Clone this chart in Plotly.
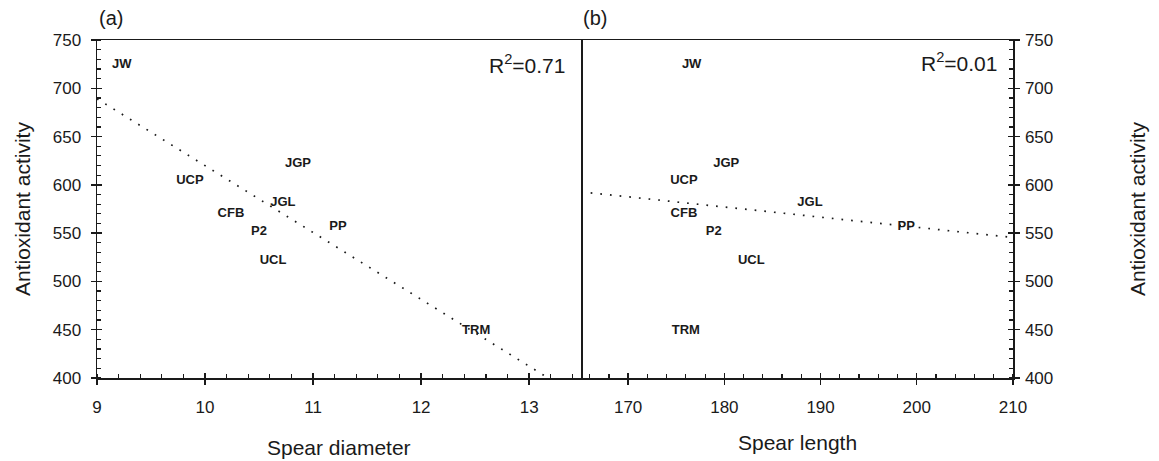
import numpy as np
import plotly.graph_objects as go

# ---------------- data ----------------
cultivars = ["JW", "UCP", "JGP", "JGL", "CFB", "P2", "PP", "UCL", "TRM"]
antioxidant_activity = [724, 604, 622, 581, 570, 551, 557, 521, 449]
spear_diameter = [9.23, 9.86, 10.86, 10.72, 10.24, 10.50, 11.23, 10.63, 12.51]
spear_length = [176.6, 175.8, 180.2, 188.9, 175.8, 178.9, 198.9, 182.8, 176.0]

r2_texts = ["R<sup>2</sup>=0.71", "R<sup>2</sup>=0.01"]
panel_tags = ["(a)", "(b)"]
x_titles = ["Spear diameter", "Spear length"]
y_title = "Antioxidant activity"

diam_range = [9, 13.48]
len_range = [165.1, 210]
y_range = [400, 750]

# ---------------- style ----------------
FONT = "Liberation Sans, Arial, Helvetica, sans-serif"
INK = "#1a1a1a"
W, H = 1159, 461
ML, MR, MT, MB = 97, 146, 40, 83
plot_w = W - ML - MR
split = (581 - ML) / plot_w

fig = go.Figure()

# trend lines (least squares fits from the data)
def fit_line(x, y, rng):
    k, b = np.polyfit(x, y, 1)
    xs = np.array(rng, dtype=float)
    return xs, k * xs + b

dash = "1.7px,8px"
xs, ys = fit_line(spear_diameter, antioxidant_activity, diam_range)
fig.add_trace(go.Scatter(x=xs, y=ys, mode="lines", xaxis="x", yaxis="y",
                         line=dict(color=INK, width=1.7, dash=dash),
                         hoverinfo="skip", showlegend=False))
xs, ys = fit_line(spear_length, antioxidant_activity, len_range)
fig.add_trace(go.Scatter(x=xs, y=ys, mode="lines", xaxis="x2", yaxis="y2",
                         line=dict(color=INK, width=1.7, dash=dash),
                         hoverinfo="skip", showlegend=False))

# cultivar labels as the points
label_font = dict(family=FONT, size=13, color=INK, weight="bold")
fig.add_trace(go.Scatter(x=spear_diameter, y=antioxidant_activity, mode="text",
                         text=cultivars, textposition="middle center",
                         textfont=label_font, xaxis="x", yaxis="y",
                         showlegend=False, cliponaxis=False))
fig.add_trace(go.Scatter(x=spear_length, y=antioxidant_activity, mode="text",
                         text=cultivars, textposition="middle center",
                         textfont=label_font, xaxis="x2", yaxis="y2",
                         showlegend=False, cliponaxis=False))

# invisible traces to register the overlay (inner tick) axes
fig.add_trace(go.Scatter(x=[diam_range[0]], y=[y_range[0]], xaxis="x3",
                         yaxis="y3", mode="markers", marker=dict(opacity=0),
                         showlegend=False, hoverinfo="skip"))
fig.add_trace(go.Scatter(x=[len_range[1]], y=[y_range[0]], xaxis="x4",
                         yaxis="y4", mode="markers", marker=dict(opacity=0),
                         showlegend=False, hoverinfo="skip"))

tickfont = dict(family=FONT, size=17, color=INK)

def main_axis(**kw):
    d = dict(showline=True, linecolor=INK, linewidth=1.5, mirror=True,
             showgrid=False, zeroline=False, ticks="outside", ticklen=5,
             tickwidth=1.3, tickcolor=INK, tickfont=tickfont, fixedrange=True)
    d.update(kw)
    return d

def inner_axis(**kw):
    d = dict(showline=False, showgrid=False, zeroline=False, ticks="inside",
             ticklen=5, tickwidth=1.3, tickcolor=INK, showticklabels=False,
             fixedrange=True)
    d.update(kw)
    return d

minor_style = dict(ticks="inside", ticklen=4, tickcolor=INK, tickwidth=1.2)

fig.update_layout(
    width=W, height=H,
    margin=dict(l=ML, r=MR, t=MT, b=MB),
    paper_bgcolor="white", plot_bgcolor="white",
    font=dict(family=FONT, color=INK),
    showlegend=False,
    xaxis=main_axis(domain=[0, split], range=diam_range, anchor="y",
                    tick0=9, dtick=1, ticklabelstandoff=8,
                    minor=dict(dtick=0.2, **minor_style)),
    yaxis=main_axis(domain=[0, 1], range=y_range, anchor="x",
                    tick0=400, dtick=50, ticklabelstandoff=6,
                    minor=dict(dtick=10, **minor_style)),
    xaxis2=main_axis(domain=[split, 1], range=len_range, anchor="y2",
                     tick0=170, dtick=10, ticklabelstandoff=8,
                     minor=dict(dtick=2, **minor_style)),
    yaxis2=main_axis(domain=[0, 1], range=y_range, anchor="x2", side="right",
                     mirror=False, tick0=400, dtick=50, ticklabelstandoff=2,
                     minor=dict(dtick=10, **minor_style)),
    xaxis3=inner_axis(domain=[0, split], range=diam_range, anchor="y3",
                      overlaying="x", tick0=9, dtick=1),
    yaxis3=inner_axis(domain=[0, 1], range=y_range, anchor="x3",
                      overlaying="y", tick0=400, dtick=50),
    xaxis4=inner_axis(domain=[split, 1], range=len_range, anchor="y4",
                      overlaying="x2", tick0=170, dtick=10),
    yaxis4=inner_axis(domain=[0, 1], range=y_range, anchor="x4",
                      overlaying="y2", side="right", tick0=400, dtick=50),
)

# text annotations
ann = []
ann.append(dict(text=panel_tags[0], xref="paper", yref="paper", x=0.0, y=1.0,
                xanchor="left", yanchor="bottom", yshift=9, showarrow=False,
                font=dict(family=FONT, size=20, color=INK)))
ann.append(dict(text=panel_tags[1], xref="paper", yref="paper", x=split, y=1.0,
                xanchor="left", yanchor="bottom", yshift=9, showarrow=False,
                font=dict(family=FONT, size=20, color=INK)))
ann.append(dict(text=r2_texts[0], xref="x domain", yref="y domain", x=0.972,
                y=0.928, xanchor="right", yanchor="middle", showarrow=False,
                font=dict(family=FONT, size=21, color=INK)))
ann.append(dict(text=r2_texts[1], xref="x2 domain", yref="y2 domain", x=0.968,
                y=0.935, xanchor="right", yanchor="middle", showarrow=False,
                font=dict(family=FONT, size=21, color=INK)))
ann.append(dict(text=x_titles[0], xref="x domain", yref="paper", x=0.5,
                y=-0.205, xanchor="center", yanchor="middle", showarrow=False,
                font=dict(family=FONT, size=21, color=INK)))
ann.append(dict(text=x_titles[1], xref="x2 domain", yref="paper", x=0.5,
                y=-0.19, xanchor="center", yanchor="middle", showarrow=False,
                font=dict(family=FONT, size=21, color=INK)))
ann.append(dict(text=y_title, xref="paper", yref="paper", x=(22 - ML) / plot_w,
                y=0.5, xanchor="center", yanchor="middle", textangle=-90,
                showarrow=False, font=dict(family=FONT, size=21, color=INK)))
ann.append(dict(text=y_title, xref="paper", yref="paper",
                x=(1137 - ML) / plot_w, y=0.5, xanchor="center",
                yanchor="middle", textangle=-90, showarrow=False,
                font=dict(family=FONT, size=21, color=INK)))
fig.update_layout(annotations=ann)

# remove the default page margin so the figure sits at the window's corner
fig.write_html("out.html",
               config={"displayModeBar": False, "staticPlot": True},
               post_script="document.body.style.margin='0';"
                           "document.body.style.overflow='hidden';")
